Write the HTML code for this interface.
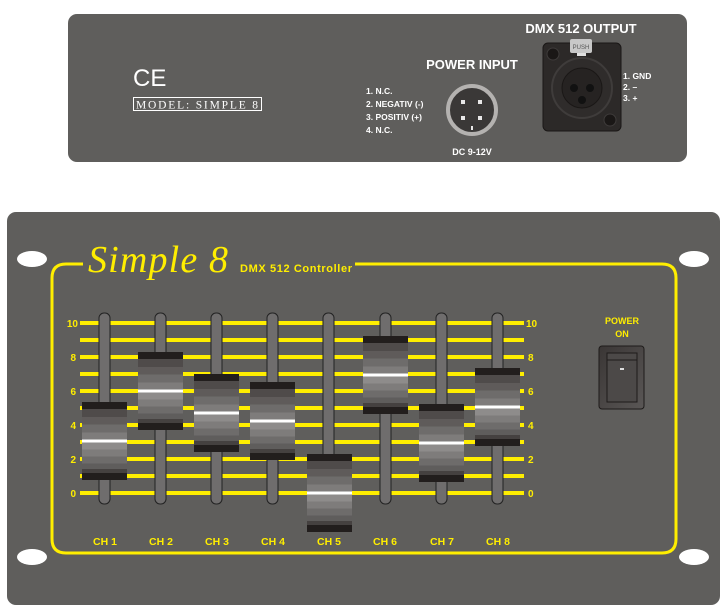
<!DOCTYPE html>
<html><head><meta charset="utf-8"><style>
html,body{margin:0;padding:0;background:#fff;}
svg{display:block;}
text{font-family:"Liberation Sans",sans-serif;}
</style></head><body>
<svg width="727" height="612" viewBox="0 0 727 612" xmlns="http://www.w3.org/2000/svg">
<defs>
<linearGradient id="knob" x1="0" y1="0" x2="0" y2="1">
<stop offset="0" stop-color="#221e1d"/><stop offset="0.09" stop-color="#221e1d"/>
<stop offset="0.09" stop-color="#4f4b4a"/><stop offset="0.19" stop-color="#4f4b4a"/>
<stop offset="0.19" stop-color="#5f5b5a"/><stop offset="0.29" stop-color="#5f5b5a"/>
<stop offset="0.29" stop-color="#6e6c6b"/><stop offset="0.39" stop-color="#6e6c6b"/>
<stop offset="0.39" stop-color="#7e7c7b"/><stop offset="0.48" stop-color="#7e7c7b"/>
<stop offset="0.48" stop-color="#ffffff"/><stop offset="0.52" stop-color="#ffffff"/>
<stop offset="0.52" stop-color="#8e8c8b"/><stop offset="0.61" stop-color="#8e8c8b"/>
<stop offset="0.61" stop-color="#7e7c7b"/><stop offset="0.70" stop-color="#7e7c7b"/>
<stop offset="0.70" stop-color="#6e6c6b"/><stop offset="0.79" stop-color="#6e6c6b"/>
<stop offset="0.79" stop-color="#5f5d5c"/><stop offset="0.86" stop-color="#5f5d5c"/>
<stop offset="0.86" stop-color="#454140"/><stop offset="0.91" stop-color="#454140"/>
<stop offset="0.91" stop-color="#221e1d"/><stop offset="1" stop-color="#221e1d"/>
</linearGradient>
<linearGradient id="sw" x1="0" y1="0" x2="1" y2="1">
<stop offset="0" stop-color="#3a3635"/><stop offset="1" stop-color="#5a5756"/>
</linearGradient>
</defs>

<!-- TOP PANEL -->
<rect x="68" y="14" width="619" height="148" rx="9" fill="#5f5e5c"/>
<text x="133" y="86" font-size="24" fill="#fff" font-family="Liberation Sans">CE</text>
<rect x="133.5" y="97.5" width="128" height="13" fill="none" stroke="#fff" stroke-width="1"/>
<text x="197" y="108.5" font-size="11.5" fill="#fff" text-anchor="middle" style="font-family:'Liberation Serif',serif" textLength="122">MODEL: SIMPLE 8</text>

<text x="472" y="69" font-size="13" font-weight="bold" fill="#fff" text-anchor="middle">POWER INPUT</text>
<g font-size="8.5" font-weight="bold" fill="#fff">
<text x="366" y="94">1. N.C.</text>
<text x="366" y="107">2. NEGATIV (-)</text>
<text x="366" y="120">3. POSITIV (+)</text>
<text x="366" y="133">4. N.C.</text>
</g>
<circle cx="472" cy="110" r="24" fill="#3a3837" stroke="#b4b2b0" stroke-width="4"/>
<g fill="#e8e8e8"><rect x="461" y="100" width="4" height="4"/><rect x="478" y="100" width="4" height="4"/>
<rect x="461" y="116" width="4" height="4"/><rect x="478" y="116" width="4" height="4"/><rect x="471" y="126" width="2" height="4"/></g>
<text x="472" y="155" font-size="9" font-weight="bold" fill="#fff" text-anchor="middle">DC 9-12V</text>

<text x="581" y="33" font-size="13" font-weight="bold" fill="#fff" text-anchor="middle">DMX 512 OUTPUT</text>
<rect x="543" y="43" width="78" height="88" rx="5" fill="#2c2928" stroke="#1a1716" stroke-width="1"/>
<circle cx="553" cy="54" r="6" fill="#1a1716" stroke="#3e3b3a"/>
<circle cx="610" cy="120" r="6" fill="#1a1716" stroke="#3e3b3a"/>
<circle cx="582" cy="88" r="30" fill="#2f2c2b" stroke="#3f3c3b" stroke-width="2"/>
<circle cx="582" cy="88" r="20" fill="#262322" stroke="#1a1716"/>
<g fill="#111"><circle cx="574" cy="88" r="4"/><circle cx="590" cy="88" r="4"/><circle cx="582" cy="100" r="4"/></g>
<rect x="570" y="39" width="22" height="14" rx="2" fill="#c8c8c8"/>
<rect x="577" y="53" width="9" height="3" fill="#e0e0e0"/>
<text x="581" y="49" font-size="6" fill="#555" text-anchor="middle">PUSH</text>
<g font-size="8.5" font-weight="bold" fill="#fff">
<text x="623" y="79">1. GND</text><text x="623" y="90">2. –</text><text x="623" y="101">3. +</text>
</g>

<!-- BOTTOM PANEL -->
<rect x="7" y="212" width="713" height="393" rx="9" fill="#5f5e5c"/>
<ellipse cx="32" cy="259" rx="15" ry="8" fill="#fff"/>
<ellipse cx="694" cy="259" rx="15" ry="8" fill="#fff"/>
<ellipse cx="32" cy="557" rx="15" ry="8" fill="#fff"/>
<ellipse cx="694" cy="557" rx="15" ry="8" fill="#fff"/>

<path d="M83 264 H66 Q52 264 52 278 V539 Q52 553 66 553 H662 Q676 553 676 539 V278 Q676 264 662 264 H355" fill="none" stroke="#ffee00" stroke-width="3"/>
<text x="88" y="272" font-size="38" font-style="italic" fill="#ffee00" style="font-family:'Liberation Serif',serif" textLength="140">Simple 8</text>
<text x="240" y="272" font-size="11" font-weight="bold" fill="#ffee00" textLength="112">DMX 512 Controller</text>

<!-- scale lines -->
<g fill="#ffee00">
<rect x="80" y="321" width="444" height="4"/><rect x="80" y="338" width="444" height="4"/>
<rect x="80" y="355" width="444" height="4"/><rect x="80" y="372" width="444" height="4"/>
<rect x="80" y="389" width="444" height="4"/><rect x="80" y="406" width="444" height="4"/>
<rect x="80" y="423" width="444" height="4"/><rect x="80" y="440" width="444" height="4"/>
<rect x="80" y="457" width="444" height="4"/><rect x="80" y="474" width="444" height="4"/>
<rect x="80" y="491" width="444" height="4"/>
</g>
<g font-size="10" font-weight="bold" fill="#ffee00">
<g text-anchor="end"><text x="78" y="327">10</text><text x="76" y="361">8</text><text x="76" y="395">6</text><text x="76" y="429">4</text><text x="76" y="463">2</text><text x="76" y="497">0</text></g>
<g><text x="526" y="327">10</text><text x="528" y="361">8</text><text x="528" y="395">6</text><text x="528" y="429">4</text><text x="528" y="463">2</text><text x="528" y="497">0</text></g>
</g>

<!-- tracks -->
<g fill="#6f6d6d" stroke="#222" stroke-width="1">
<rect x="99" y="313" width="11" height="191" rx="5"/>
<rect x="155" y="313" width="11" height="191" rx="5"/>
<rect x="211" y="313" width="11" height="191" rx="5"/>
<rect x="267" y="313" width="11" height="191" rx="5"/>
<rect x="323" y="313" width="11" height="191" rx="5"/>
<rect x="380" y="313" width="11" height="191" rx="5"/>
<rect x="436" y="313" width="11" height="191" rx="5"/>
<rect x="492" y="313" width="11" height="191" rx="5"/>
</g>
<!-- knobs -->
<g fill="url(#knob)">
<rect x="82" y="402" width="45" height="78"/>
<rect x="138" y="352" width="45" height="78"/>
<rect x="194" y="374" width="45" height="78"/>
<rect x="250" y="382" width="45" height="78"/>
<rect x="307" y="454" width="45" height="78"/>
<rect x="363" y="336" width="45" height="78"/>
<rect x="419" y="404" width="45" height="78"/>
<rect x="475" y="368" width="45" height="78"/>
</g>
<g font-size="10.5" font-weight="bold" fill="#ffee00" text-anchor="middle">
<text x="105" y="545">CH 1</text><text x="161" y="545">CH 2</text><text x="217" y="545">CH 3</text><text x="273" y="545">CH 4</text>
<text x="329" y="545">CH 5</text><text x="385" y="545">CH 6</text><text x="442" y="545">CH 7</text><text x="498" y="545">CH 8</text>
</g>

<!-- power switch -->
<g font-size="9" font-weight="bold" fill="#ffee00" text-anchor="middle">
<text x="622" y="324">POWER</text><text x="622" y="337">ON</text>
</g>
<rect x="599" y="346" width="45" height="63" rx="3" fill="url(#sw)" stroke="#1e1b1a"/>
<rect x="607" y="353" width="30" height="49" fill="#4c4948" stroke="#1e1b1a"/>
<line x1="607" y1="360" x2="637" y2="360" stroke="#1e1b1a"/>
<rect x="620" y="368" width="4" height="2" fill="#ddd"/>
</svg>
</body></html>
